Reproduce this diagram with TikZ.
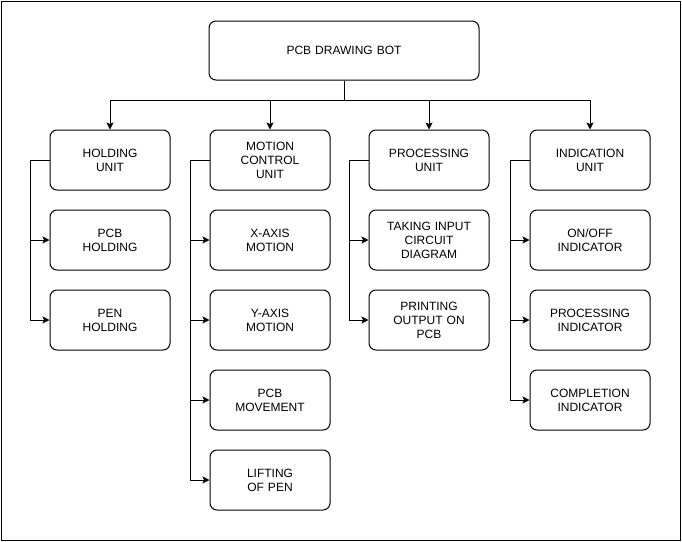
\documentclass[tikz,border=0pt]{standalone}
\usepackage{fontspec}
\setmainfont{Liberation Sans}
\usetikzlibrary{arrows.meta}
\begin{document}
\begin{tikzpicture}[x=1pt,y=-1pt,
  blk/.style={draw,line width=1pt,rounded corners=7pt,minimum width=120pt,minimum height=60pt,
    align=center,font=\fontsize{12pt}{14pt}\selectfont,inner sep=2pt,text width=116pt},
  conn/.style={line width=1pt},
  arr/.style={line width=1pt,-{Stealth[length=7pt,width=7pt,inset=1.5pt]}}]
\useasboundingbox (0,0) rectangle (682,541);
\draw[line width=1pt] (1,1) rectangle (680.5,540);
\node[blk,minimum width=270pt,minimum height=59pt,text width=260pt] (top) at (344,50.5) {PCB DRAWING BOT};
% column heads
\node[blk] (h1) at (110,160) {HOLDING\\UNIT};
\node[blk] (h2) at (270,160) {MOTION\\CONTROL\\UNIT};
\node[blk] (h3) at (429,160) {PROCESSING\\UNIT};
\node[blk] (h4) at (590,160) {INDICATION\\UNIT};
% column 1
\node[blk] (a1) at (110,240) {PCB\\HOLDING};
\node[blk] (a2) at (110,320) {PEN\\HOLDING};
% column 2
\node[blk] (b1) at (270,240) {X-AXIS\\MOTION};
\node[blk] (b2) at (270,320) {Y-AXIS\\MOTION};
\node[blk] (b3) at (270,400) {PCB\\MOVEMENT};
\node[blk] (b4) at (270,480) {LIFTING\\OF PEN};
% column 3
\node[blk] (c1) at (429,240) {TAKING INPUT\\CIRCUIT\\DIAGRAM};
\node[blk] (c2) at (429,320) {PRINTING\\OUTPUT ON\\PCB};
% column 4
\node[blk] (d1) at (590,240) {ON/OFF\\INDICATOR};
\node[blk] (d2) at (590,320) {PROCESSING\\INDICATOR};
\node[blk] (d3) at (590,400) {COMPLETION\\INDICATOR};
% top connectors
\coordinate (j) at (344,100);
\draw[conn] (top.south) -- (j);
\foreach \h in {h1,h2,h3,h4}
  \draw[arr] (j) -| (\h.north);
% side rails
\foreach \h/\c/\r in {h1/a1/30,h1/a2/30,h2/b1/190,h2/b2/190,h2/b3/190,h2/b4/190,h3/c1/349,h3/c2/349,h4/d1/510,h4/d2/510,h4/d3/510}
  \draw[arr] (\h.west) -- (\r,160) |- (\c.west);
\end{tikzpicture}
\end{document}
